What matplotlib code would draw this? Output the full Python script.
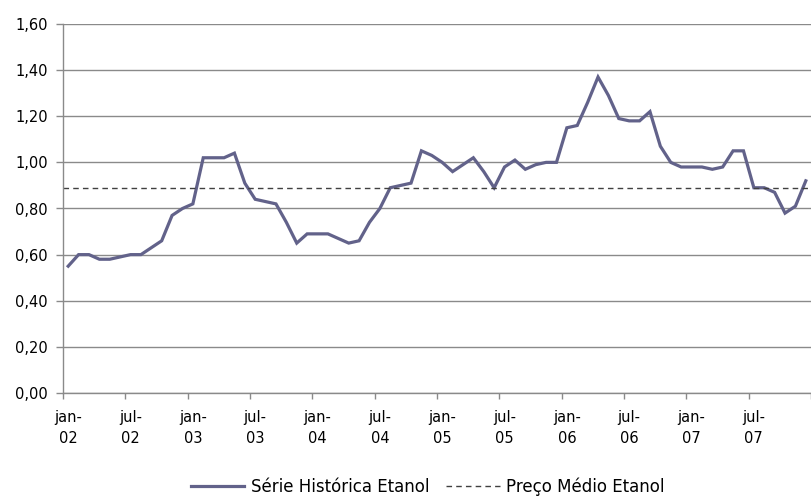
import numpy as np
import matplotlib
matplotlib.use("Agg")
import matplotlib.pyplot as plt
from matplotlib.ticker import FuncFormatter, FixedLocator

# preço mensal do etanol, jan/2002 a dez/2007
meses = ["jan", "fev", "mar", "abr", "mai", "jun",
         "jul", "ago", "set", "out", "nov", "dez"]
anos = ["02", "03", "04", "05", "06", "07"]

etanol = [
    0.55, 0.60, 0.60, 0.58, 0.58, 0.59, 0.60, 0.60, 0.63, 0.66, 0.77, 0.80,
    0.82, 1.02, 1.02, 1.02, 1.04, 0.91, 0.84, 0.83, 0.82, 0.74, 0.65, 0.69,
    0.69, 0.69, 0.67, 0.65, 0.66, 0.74, 0.80, 0.89, 0.90, 0.91, 1.05, 1.03,
    1.00, 0.96, 0.99, 1.02, 0.96, 0.89, 0.98, 1.01, 0.97, 0.99, 1.00, 1.00,
    1.15, 1.16, 1.26, 1.37, 1.29, 1.19, 1.18, 1.18, 1.22, 1.07, 1.00, 0.98,
    0.98, 0.98, 0.97, 0.98, 1.05, 1.05, 0.89, 0.89, 0.87, 0.78, 0.81, 0.92,
]
preco_medio = 0.89

rotulos = [f"{m}-\n{a}" for a in anos for m in meses]

cor_linha = "#62628a"
cor_grade = "#8a8a8a"

fig = plt.figure(figsize=(8.11, 4.98), dpi=100)
ax = fig.add_axes([63 / 811, 1 - 393 / 498, 1 - 63 / 811, (393 - 24) / 498])

x = np.arange(len(etanol))
ax.plot(x, etanol, color=cor_linha, lw=2.3, solid_joinstyle="miter",
        label="Série Histórica Etanol")
ax.plot([-0.5, len(etanol) - 0.5], [preco_medio, preco_medio],
        color="#404040", lw=1.0, ls=(0, (4, 3)), label="Preço Médio Etanol")

ax.set_xlim(-0.5, len(etanol) - 0.5)
ax.set_ylim(0, 1.6)
ax.set_yticks(np.arange(0, 1.61, 0.2))
ax.yaxis.set_major_formatter(FuncFormatter(lambda v, p: f"{v:.2f}".replace(".", ",")))
ax.yaxis.grid(True, color=cor_grade, lw=1.0)
ax.set_axisbelow(True)

# marcas entre categorias, rótulos a cada 6 meses no centro
ax.xaxis.set_major_locator(FixedLocator(np.arange(-0.5, len(etanol), 6)))
ax.xaxis.set_major_formatter(FuncFormatter(lambda v, p: ""))
ax.xaxis.set_minor_locator(FixedLocator(np.arange(0, len(etanol), 6)))
ax.set_xticklabels([rotulos[i] for i in range(0, len(etanol), 6)], minor=True)
ax.tick_params(axis="x", which="minor", length=0, pad=12, labelsize=10.5)
ax.tick_params(axis="x", which="major", length=4, color=cor_grade, width=1)
for t in ax.xaxis.get_minorticklabels():
    t.set_linespacing(1.5)
ax.tick_params(axis="y", length=5, color=cor_grade, width=1, pad=6, labelsize=10.5)

for lado in ["top", "right"]:
    ax.spines[lado].set_visible(False)
for lado in ["left", "bottom"]:
    ax.spines[lado].set_color(cor_grade)
    ax.spines[lado].set_linewidth(1.0)

fig.legend(loc="center", bbox_to_anchor=(428 / 811, 1 - 487 / 498), ncol=2,
           frameon=False, fontsize=12, handlelength=3.2, columnspacing=1.0,
           handletextpad=0.4)

fig.savefig("out.png", dpi=100)
